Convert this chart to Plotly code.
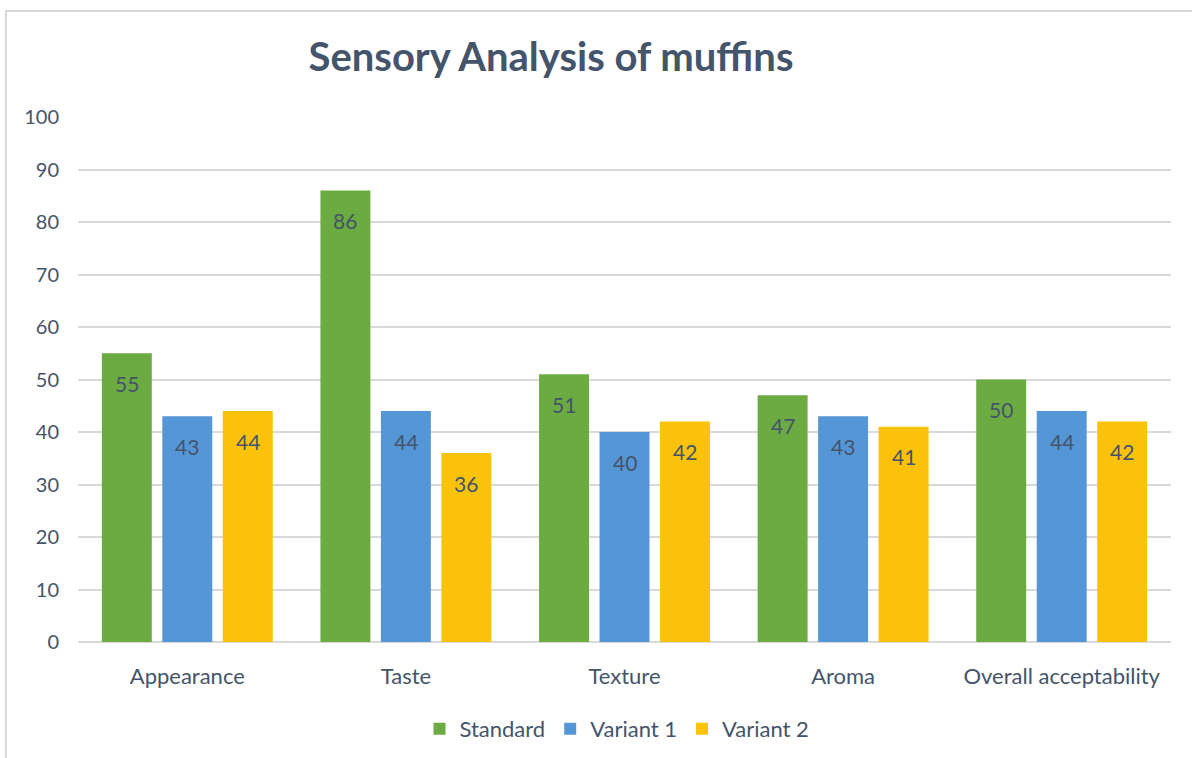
import plotly.graph_objects as go

categories = ["Appearance", "Taste", "Texture", "Aroma", "Overall acceptability"]
standard = [55, 86, 51, 47, 50]
variant1 = [43, 44, 40, 43, 44]
variant2 = [44, 36, 42, 41, 42]
series_names = ["Standard", "Variant 1", "Variant 2"]
colors = ["#6cab41", "#5597d6", "#fbc20a"]
yticks = list(range(0, 101, 10))

W, H = 1192, 758
L, R, T, B = 78, 21, 117, 116
pw, ph = W - L - R, H - T - B
font = "Lato, 'Open Sans', sans-serif"
txt = "#44546A"
BARGAP = 0.17
GROUPGAP = 0.174

fig = go.Figure()
all_vals = [standard, variant1, variant2]
for name, vals, col in zip(series_names, all_vals, colors):
    fig.add_trace(go.Bar(
        x=categories, y=vals, name=name,
        marker=dict(color=col, line=dict(width=0)),
        textposition="none",
    ))

# data labels just inside the top of each bar
slot = pw / len(categories) * (1 - BARGAP) / len(series_names)
for i, vals in enumerate(all_vals):
    for c, v in zip(categories, vals):
        fig.add_annotation(x=c, y=v, text=str(v), showarrow=False,
                           xshift=(i - 1) * slot, yshift=-30, yanchor="middle",
                           font=dict(size=21, color=txt, family=font))

def px2x(px):
    return (px - L) / pw

def py2y(py):
    return (H - B - py) / ph

fig.update_layout(
    width=W, height=H,
    margin=dict(l=L, r=R, t=T, b=B),
    paper_bgcolor="white", plot_bgcolor="white",
    barmode="group", bargap=BARGAP, bargroupgap=GROUPGAP,
    font=dict(family=font, color=txt, size=20),
    title=dict(text="<b>Sensory Analysis of muffins</b>", font=dict(size=40, color=txt, family=font),
               x=551 / W, xanchor="center", xref="container",
               y=1 - 57 / H, yanchor="middle", yref="container"),
    xaxis=dict(showgrid=False, showline=False, zeroline=False, ticks="",
               tickfont=dict(size=22, color=txt), ticklabelstandoff=19),
    yaxis=dict(range=[0, 100], tickvals=yticks, showgrid=True, gridcolor="#D9D9D9", gridwidth=1.5,
               zeroline=True, zerolinecolor="#D9D9D9", zerolinewidth=1.5, showline=False,
               ticks="", tickfont=dict(size=20, color=txt), ticklabelstandoff=18),
    legend=dict(orientation="h", x=617 / W, xanchor="center", xref="container",
                y=1 - 729 / H, yanchor="middle", yref="container",
                font=dict(size=22, color=txt), itemwidth=30, traceorder="normal"),
    showlegend=True,
)

fig.add_shape(type="rect", xref="paper", yref="paper",
              x0=px2x(6), x1=px2x(W + 10), y0=py2y(H + 10), y1=py2y(11),
              line=dict(color="#D9D9D9", width=2), fillcolor="rgba(0,0,0,0)", layer="below")

fig.write_html("out.html")
